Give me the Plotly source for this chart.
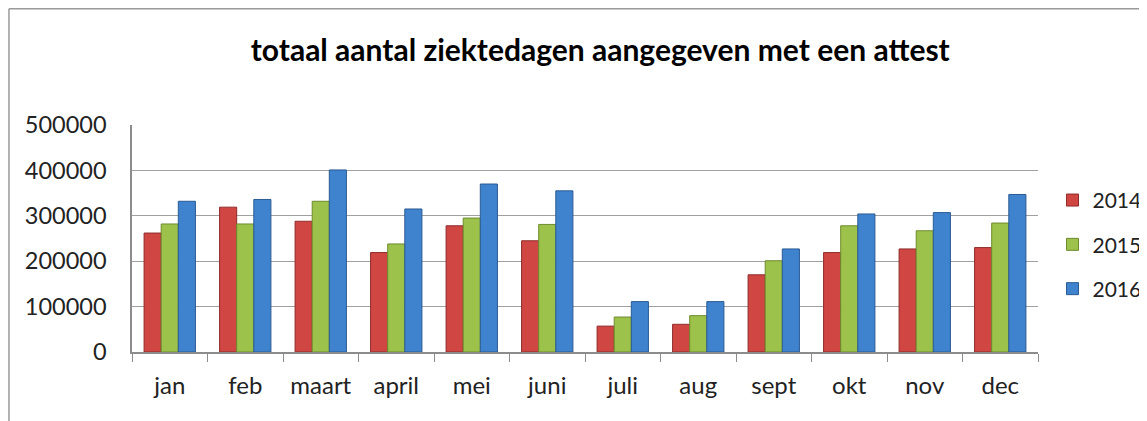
import plotly.graph_objects as go

months = ["jan", "feb", "maart", "april", "mei", "juni", "juli", "aug", "sept", "okt", "nov", "dec"]
v2014 = [262000, 319000, 288000, 219000, 278000, 245000, 57000, 61000, 170000, 219000, 227000, 230000]
v2015 = [282000, 282000, 332000, 238000, 295000, 281000, 77000, 80000, 201000, 278000, 267000, 284000]
v2016 = [332000, 336000, 401000, 315000, 370000, 355000, 111000, 111000, 227000, 304000, 307000, 347000]
series_names = ["2014", "2015", "2016"]
colors = ["#CF4643", "#9DC24B", "#3F83CF"]
edges = ["#8E2C2A", "#6E8A2E", "#2A5A92"]
ytick_vals = [0, 100000, 200000, 300000, 400000, 500000]
ytick_text = ["0", "100000", "200000", "300000", "400000", "500000"]

FONT = "Lato"

fig = go.Figure()
for name, vals, c, e in zip(series_names, [v2014, v2015, v2016], colors, edges):
    fig.add_trace(go.Bar(
        x=months, y=vals, name=name, legendgroup=name,
        marker=dict(color=c, line=dict(color=e, width=1)),
    ))

fig.update_layout(
    width=1139, height=413,
    paper_bgcolor="white", plot_bgcolor="white",
    margin=dict(l=124, r=109, t=117, b=69, autoexpand=False),
    barmode="group", bargap=0.32, bargroupgap=0,
    title=dict(text="<b>totaal aantal ziektedagen aangegeven met een attest</b>",
               x=0.52, xanchor="center", y=0.898, yanchor="middle",
               font=dict(family=FONT, size=30, color="black")),
    font=dict(family=FONT, color="#222222"),
    legend=dict(x=1.016, y=0.474, xanchor="left", yanchor="middle",
                font=dict(family=FONT, size=21, color="#222222"),
                traceorder="grouped", tracegroupgap=14, itemwidth=30,
                bgcolor="rgba(0,0,0,0)"),
    showlegend=True,
)
fig.update_xaxes(
    showline=True, linecolor="#8c8c8c", linewidth=1.5,
    ticks="outside", tickson="boundaries", ticklen=8, tickcolor="#8c8c8c",
    tickfont=dict(family=FONT, size=24, color="#222222"),
    ticklabelstandoff=11,
    showgrid=False,
)
fig.update_yaxes(
    range=[0, 500000], tickvals=ytick_vals, ticktext=ytick_text,
    showline=True, linecolor="#8c8c8c", linewidth=1.5,
    showgrid=True, gridcolor="#a0a0a0", gridwidth=1.2,
    tickfont=dict(family=FONT, size=23.5, color="#222222"),
    ticks="", ticklabelstandoff=19, zeroline=False,
)
# outer chart frame (left and top edges)
fig.add_shape(type="line", xref="paper", yref="paper", x0=-0.1358, x1=-0.1358, y0=-0.35, y1=1.512,
              line=dict(color="#9a9a9a", width=1.5))
fig.add_shape(type="line", xref="paper", yref="paper", x0=-0.1358, x1=1.2, y0=1.512, y1=1.512,
              line=dict(color="#9a9a9a", width=1.5))

fig.write_html("out.html")
